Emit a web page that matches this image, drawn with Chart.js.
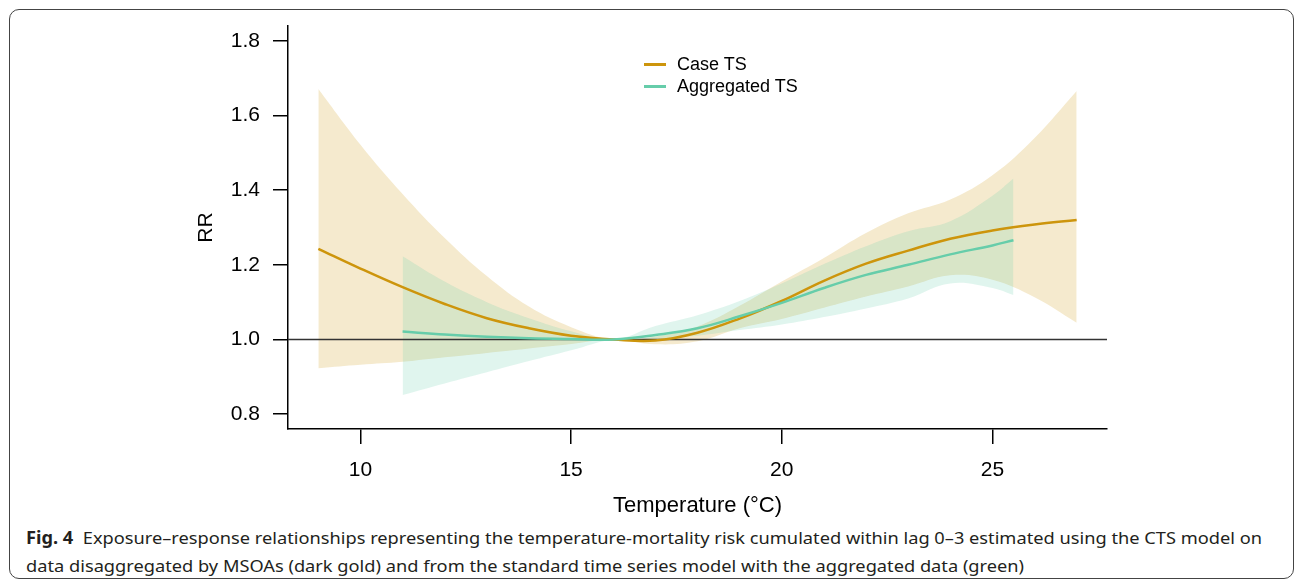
<!DOCTYPE html>
<html>
<head>
<meta charset="utf-8">
<script src="https://cdn.jsdelivr.net/npm/chart.js@4.4.1/dist/chart.umd.min.js"></script>
<style>
  body { margin: 0; background: #fff; font-family: "Liberation Sans", Arial, sans-serif; }
  #wrap { position: relative; width: 1296px; height: 586px; overflow: hidden; }
  #frame { position: absolute; left: 9px; top: 9px; width: 1283px; height: 568px;
           border: 1.5px solid #444; border-radius: 10px; }
  #chart { position: absolute; left: 0; top: 0; }
  .leg { position: absolute; left: 644px; font-size: 18px; color: #000; height: 22px; line-height: 22px; }
  .leg span { display: inline-block; width: 22px; height: 2.5px; vertical-align: middle; margin-right: 11px; position: relative; top: -1px; }
  .cap { position: absolute; left: 26px; font-family: "Noto Sans", sans-serif; font-size: 17px;
         color: #231f20; white-space: nowrap; transform-origin: 0 50%; line-height: 24px; }
  .cap b { font-weight: 700; }
</style>
</head>
<body>
<div id="wrap">
  <div id="frame"></div>
  <canvas id="chart" width="1296" height="525"></canvas>
  <div class="leg" style="top:53px"><span style="background:#CD950C"></span>Case TS</div>
  <div class="leg" style="top:75px"><span style="background:#66CDAA"></span>Aggregated TS</div>
  <div class="cap" id="cap1" style="top:526px"><b>Fig. 4</b>&nbsp; Exposure–response relationships representing the temperature-mortality risk cumulated within lag 0–3 estimated using the CTS model on</div>
  <div class="cap" id="cap2" style="top:554px">data disaggregated by MSOAs (dark gold) and from the standard time series model with the aggregated data (green)</div>
</div>
<script>
// Case time series (CTS on MSOA data)
const caseTemp = [9, 10, 11, 12, 13, 14, 15, 16, 17, 18, 19, 20, 21, 22, 23, 24, 25, 26, 27];
const caseRR   = [1.243, 1.19, 1.14, 1.095, 1.057, 1.03, 1.01, 1.0, 0.997, 1.018, 1.056, 1.103, 1.157, 1.203, 1.238, 1.27, 1.292, 1.308, 1.32];
const caseHigh = [1.671, 1.522, 1.39, 1.272, 1.17, 1.088, 1.033, 1.0, 1.008, 1.035, 1.09, 1.155, 1.218, 1.285, 1.338, 1.375, 1.44, 1.54, 1.666];
const caseLow  = [0.923, 0.932, 0.94, 0.952, 0.964, 0.976, 0.988, 1.0, 0.987, 0.995, 1.03, 1.055, 1.085, 1.115, 1.142, 1.172, 1.16, 1.113, 1.045];

// Aggregated time series
const aggTemp = [11, 12, 13, 14, 15, 16, 17, 18, 19, 20, 21, 22, 23, 24, 25, 25.5];
const aggRR   = [1.021, 1.013, 1.007, 1.003, 1.001, 1.0, 1.012, 1.03, 1.062, 1.098, 1.138, 1.173, 1.2, 1.228, 1.252, 1.266];
const aggHigh = [1.223, 1.155, 1.10, 1.057, 1.022, 1.0, 1.036, 1.065, 1.103, 1.15, 1.202, 1.25, 1.29, 1.317, 1.385, 1.431];
const aggLow  = [0.851, 0.882, 0.912, 0.942, 0.971, 1.0, 1.002, 1.01, 1.025, 1.04, 1.06, 1.083, 1.11, 1.15, 1.138, 1.119];

// axis
const xTicks = [10, 15, 20, 25];
const yTicks = [0.8, 1.0, 1.2, 1.4, 1.6, 1.8];
const xRange = [8.28, 27.72];
const yRange = [0.76, 1.84];
const refRR = 1.0;

const gold = '#CD950C';
const green = '#66CDAA';

function pts(xs, ys) {
  return xs.map((x, i) => ({ x: x, y: ys[i] }));
}

const lineBase = { pointRadius: 0, tension: 0.4, fill: false };

const ctx = document.getElementById('chart').getContext('2d');
new Chart(ctx, {
  type: 'line',
  data: {
    datasets: [
      { ...lineBase, label: 'Aggregated TS', data: pts(aggTemp, aggRR), borderColor: green, borderWidth: 2.5, order: 0 },
      { ...lineBase, label: 'Case TS', data: pts(caseTemp, caseRR), borderColor: gold, borderWidth: 2.5, order: 1 },
      { ...lineBase, label: 'ref', data: pts(xRange, [refRR, refRR]), tension: 0, borderColor: '#333', borderWidth: 1.5, order: 2 },
      { ...lineBase, label: 'agg hi', data: pts(aggTemp, aggHigh), borderWidth: 0, borderColor: 'rgba(0,0,0,0)',
        fill: '+1', backgroundColor: 'rgba(102,205,170,0.2)', order: 3 },
      { ...lineBase, label: 'agg lo', data: pts(aggTemp, aggLow), borderWidth: 0, borderColor: 'rgba(0,0,0,0)', order: 4 },
      { ...lineBase, label: 'case hi', data: pts(caseTemp, caseHigh), borderWidth: 0, borderColor: 'rgba(0,0,0,0)',
        fill: '+1', backgroundColor: 'rgba(205,149,12,0.2)', order: 5 },
      { ...lineBase, label: 'case lo', data: pts(caseTemp, caseLow), borderWidth: 0, borderColor: 'rgba(0,0,0,0)', order: 6 }
    ]
  },
  options: {
    responsive: false,
    animation: false,
    devicePixelRatio: 1,
    layout: { padding: { left: 0, top: 26, right: 189, bottom: 0 } },
    plugins: { legend: { display: false }, tooltip: { enabled: false } },
    scales: {
      x: {
        type: 'linear',
        min: xRange[0],
        max: xRange[1],
        afterFit: s => { s.height = 96; },
        afterBuildTicks: s => { s.ticks = xTicks.map(v => ({ value: v })); },
        ticks: { color: '#000', padding: 14, font: { family: 'Liberation Sans', size: 21 }, maxRotation: 0 },
        grid: { drawOnChartArea: false, drawTicks: true, tickLength: 15, color: '#000', lineWidth: 1.5 },
        border: { display: true, color: '#000', width: 1.5 },
        title: { display: true, text: 'Temperature (°C)', color: '#000',
                 font: { family: 'Liberation Sans', size: 22 }, padding: { top: 0, bottom: 6 } }
      },
      y: {
        type: 'linear',
        min: yRange[0],
        max: yRange[1],
        afterFit: s => { s.width = 288; },
        afterBuildTicks: s => { s.ticks = yTicks.map(v => ({ value: v })); },
        ticks: { color: '#000', padding: 13, font: { family: 'Liberation Sans', size: 21 },
                 callback: v => v.toFixed(1) },
        grid: { drawOnChartArea: false, drawTicks: true, tickLength: 15, color: '#000', lineWidth: 1.5 },
        border: { display: true, color: '#000', width: 1.5 },
        title: { display: true, text: 'RR', color: '#000',
                 font: { family: 'Liberation Sans', size: 21 }, padding: { top: 194, bottom: 0 } }
      }
    }
  }
});

// squeeze the caption to the width of the printed lines
const c1 = document.getElementById('cap1');
const c2 = document.getElementById('cap2');
const k = 1236 / c1.getBoundingClientRect().width;
c1.style.transform = 'scaleX(' + k + ')';
c2.style.transform = 'scaleX(' + k + ')';
</script>
</body>
</html>
